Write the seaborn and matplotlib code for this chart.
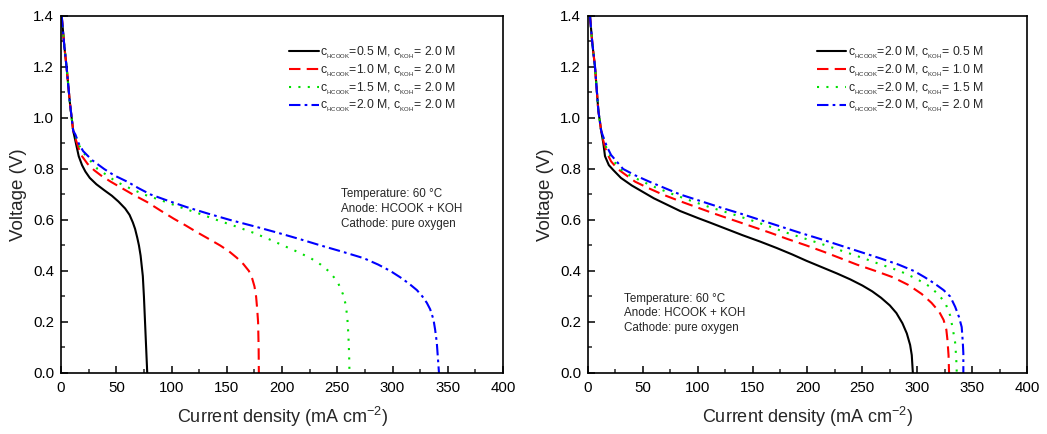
import numpy as np
import pandas as pd
import matplotlib
matplotlib.use("Agg")
import matplotlib.pyplot as plt
from matplotlib.ticker import MultipleLocator, FormatStrFormatter
import seaborn as sns

# ---------------- data ----------------
# steep activation region shared by all curves of a panel
left_top_j = [0.6, 3, 5, 8, 11]
left_top_v = [1.40, 1.28, 1.20, 1.06, 0.95]
right_top_j = [1.8, 4, 6.4, 9.4, 12]
right_top_v = [1.40, 1.29, 1.20, 1.03, 0.95]

# Left panel: varying HCOOK, KOH = 2.0 M
left_labels = [r"$\mathregular{c_{{}_{HCOOK}}}$=0.5 M, $\mathregular{c_{{}_{KOH}}}$= 2.0 M",
               r"$\mathregular{c_{{}_{HCOOK}}}$=1.0 M, $\mathregular{c_{{}_{KOH}}}$= 2.0 M",
               r"$\mathregular{c_{{}_{HCOOK}}}$=1.5 M, $\mathregular{c_{{}_{KOH}}}$= 2.0 M",
               r"$\mathregular{c_{{}_{HCOOK}}}$=2.0 M, $\mathregular{c_{{}_{KOH}}}$= 2.0 M"]
left_j = [
    [13.5, 16, 19, 22, 26, 32, 39, 46, 52, 58, 62, 65, 67, 69, 70.5, 72, 73, 74, 75, 76, 77, 78],
    [13, 16, 19, 24, 30, 36, 45, 55, 65, 78, 90, 102, 113, 123, 134, 144, 152, 159, 165, 170,
     173, 175, 176.5, 177.5, 178.3, 178.8, 179],
    [13, 16, 20, 26, 33, 40, 50, 62, 75, 92, 108, 125, 141, 158, 174, 188, 201, 214, 226, 235,
     242, 247, 251, 255, 257.5, 259, 260, 260.7, 261],
    [13, 16, 20, 28, 39, 48, 60, 70, 81, 97, 114, 133, 153, 175, 196, 216, 235, 255, 274, 287,
     298, 307, 315, 322, 327, 331, 334, 337, 338.5, 340, 341, 342],
]
left_v = [
    [0.90, 0.85, 0.815, 0.79, 0.765, 0.74, 0.717, 0.695, 0.672, 0.645, 0.62, 0.59, 0.565, 0.53,
     0.50, 0.46, 0.42, 0.38, 0.30, 0.20, 0.10, 0.00],
    [0.92, 0.88, 0.85, 0.82, 0.795, 0.775, 0.75, 0.725, 0.70, 0.67, 0.637, 0.605, 0.578, 0.552,
     0.525, 0.50, 0.477, 0.452, 0.427, 0.40, 0.37, 0.34, 0.30, 0.25, 0.20, 0.10, 0.00],
    [0.93, 0.895, 0.865, 0.835, 0.80, 0.78, 0.75, 0.725, 0.70, 0.675, 0.65, 0.625, 0.60, 0.575,
     0.55, 0.525, 0.50, 0.475, 0.45, 0.425, 0.40, 0.375, 0.35, 0.31, 0.27, 0.22, 0.15, 0.07, 0.00],
    [0.935, 0.90, 0.87, 0.835, 0.80, 0.775, 0.75, 0.725, 0.70, 0.675, 0.65, 0.625, 0.60, 0.575,
     0.55, 0.525, 0.50, 0.475, 0.45, 0.425, 0.40, 0.375, 0.35, 0.325, 0.30, 0.275, 0.25, 0.21,
     0.17, 0.12, 0.06, 0.00],
]

# Right panel: HCOOK = 2.0 M, varying KOH
right_labels = [r"$\mathregular{c_{{}_{HCOOK}}}$=2.0 M, $\mathregular{c_{{}_{KOH}}}$= 0.5 M",
                r"$\mathregular{c_{{}_{HCOOK}}}$=2.0 M, $\mathregular{c_{{}_{KOH}}}$= 1.0 M",
                r"$\mathregular{c_{{}_{HCOOK}}}$=2.0 M, $\mathregular{c_{{}_{KOH}}}$= 1.5 M",
                r"$\mathregular{c_{{}_{HCOOK}}}$=2.0 M, $\mathregular{c_{{}_{KOH}}}$= 2.0 M"]
right_j = [
    [14, 15.5, 19, 23, 30, 40, 50, 60, 72, 84, 100.5, 111, 126, 141, 157, 172, 186, 199, 213,
     227, 239, 250, 259, 267, 275, 281, 286.5, 290.5, 293.5, 295, 296],
    [14, 17, 21, 27, 35, 43, 55, 68, 83, 99, 115, 132, 149, 166, 182, 199, 215, 230, 245, 262,
     278, 292, 304, 313, 320, 324, 326.5, 327.5, 328.5, 329],
    [14, 17, 21, 29, 38, 50, 63, 78, 94, 111, 130, 148, 165, 181, 199, 217, 234, 251, 267, 284,
     299, 311, 320, 326, 330, 332.5, 334.5, 335.5, 336],
    [14, 17, 21, 32, 43, 56, 70, 84, 102, 120, 139, 157, 175, 193, 212, 230, 248, 266, 283, 297,
     307, 316, 324, 330, 334.5, 338, 340.5, 341.5, 342, 342],
]
right_v = [
    [0.90, 0.85, 0.815, 0.796, 0.765, 0.735, 0.71, 0.685, 0.66, 0.635, 0.607, 0.59, 0.565, 0.54,
     0.515, 0.49, 0.465, 0.44, 0.415, 0.39, 0.367, 0.343, 0.32, 0.295, 0.265, 0.235, 0.195, 0.155,
     0.11, 0.07, 0.00],
    [0.91, 0.865, 0.83, 0.80, 0.775, 0.75, 0.725, 0.70, 0.675, 0.65, 0.625, 0.60, 0.575, 0.55,
     0.525, 0.50, 0.475, 0.45, 0.425, 0.40, 0.375, 0.345, 0.31, 0.275, 0.24, 0.208, 0.17, 0.13,
     0.07, 0.00],
    [0.92, 0.88, 0.845, 0.80, 0.775, 0.75, 0.725, 0.70, 0.675, 0.65, 0.625, 0.60, 0.575, 0.55,
     0.525, 0.50, 0.475, 0.45, 0.425, 0.40, 0.37, 0.34, 0.305, 0.27, 0.225, 0.17, 0.12, 0.06,
     0.00],
    [0.925, 0.89, 0.855, 0.80, 0.775, 0.75, 0.725, 0.70, 0.675, 0.65, 0.625, 0.60, 0.575, 0.55,
     0.525, 0.50, 0.475, 0.45, 0.425, 0.40, 0.375, 0.35, 0.325, 0.30, 0.26, 0.22, 0.18, 0.12,
     0.077, 0.00],
]

note_text = "Temperature: 60 \u00b0C\nAnode: HCOOK + KOH\nCathode: pure oxygen"

colors = ["black", "#ff0000", "#00e000", "#0000ff"]
styles = ["-", (0, (5.5, 3)), (0, (1, 3.5)), (0, (5.5, 2, 1.3, 2))]

# ---------------- style ----------------
sns.set_theme(style="ticks")
plt.rcParams["font.family"] = ["Liberation Sans", "DejaVu Sans"]
plt.rcParams["mathtext.fontset"] = "custom"
plt.rcParams["mathtext.rm"] = "Liberation Sans"
plt.rcParams["mathtext.it"] = "Liberation Sans:italic"
plt.rcParams["mathtext.bf"] = "Liberation Sans:bold"

fig = plt.figure(figsize=(10.47, 4.34), dpi=100)
ax1 = fig.add_axes([0.0583, 0.1406, 0.4222, 0.8226])
ax2 = fig.add_axes([0.5616, 0.1406, 0.4193, 0.8226])


def draw(ax, labels, top_j, top_v, jj, vv, note_xy, legend_anchor):
    for i in range(4):
        df = pd.DataFrame({"j": top_j + jj[i], "v": top_v + vv[i]})
        sns.lineplot(data=df, x="j", y="v", ax=ax, sort=False, estimator=None,
                     color=colors[i], linestyle=styles[i], linewidth=1.5,
                     label=labels[i])
    ax.set_xlim(0, 400)
    ax.set_ylim(0, 1.4)
    ax.xaxis.set_major_locator(MultipleLocator(50))
    ax.xaxis.set_minor_locator(MultipleLocator(25))
    ax.yaxis.set_major_locator(MultipleLocator(0.2))
    ax.yaxis.set_minor_locator(MultipleLocator(0.1))
    ax.yaxis.set_major_formatter(FormatStrFormatter("%.1f"))
    ax.tick_params(which="major", direction="in", length=5, width=1.1,
                   labelsize=10.8, colors="black")
    ax.tick_params(axis="x", which="major", pad=6)
    ax.tick_params(axis="y", which="major", pad=5)
    ax.tick_params(which="minor", direction="in", length=2.6, width=1.1)
    for s in ax.spines.values():
        s.set_linewidth(1.2)
        s.set_color("black")
    ax.set_xlabel("Current density (mA cm$^{-2}$)", fontsize=13, labelpad=7)
    ax.set_ylabel("Voltage (V)", fontsize=13.5, labelpad=4)
    ax.text(note_xy[0], note_xy[1], note_text, fontsize=8.4, va="top",
            ha="left", linespacing=1.3)
    ax.legend(loc="upper right", bbox_to_anchor=legend_anchor, frameon=False,
              fontsize=8.8, handlelength=2.4, handletextpad=0.15,
              labelspacing=0.1, borderaxespad=0)


draw(ax1, left_labels, left_top_j, left_top_v, left_j, left_v, (253, 0.725), (0.905, 0.934))
draw(ax2, right_labels, right_top_j, right_top_v, right_j, right_v, (32.5, 0.315), (0.912, 0.934))

fig.savefig("out.png", dpi=100)
